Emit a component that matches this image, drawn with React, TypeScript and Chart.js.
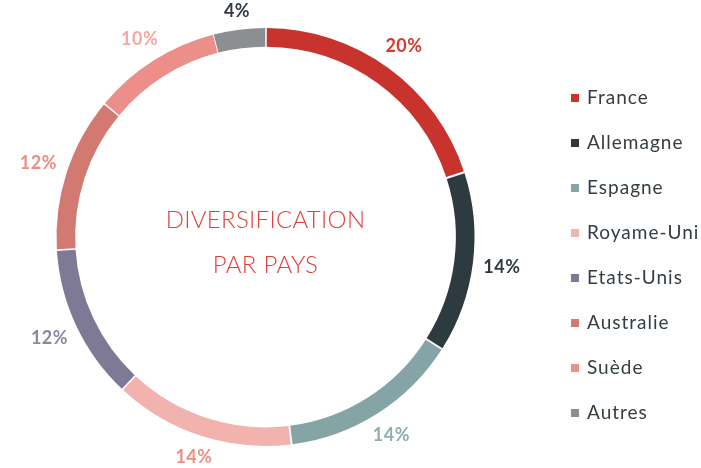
import React, { useEffect, useRef } from "react";
import { Chart, registerables } from "chart.js";

Chart.register(...registerables);

const countries = ["France", "Allemagne", "Espagne", "Royame-Uni", "Etats-Unis", "Australie", "Suède", "Autres"];
const shares = [20, 14, 14, 14, 12, 12, 10, 4];
const sliceColors = ["#C8332D", "#2D3A40", "#84A4A6", "#F2B3AF", "#7E7A95", "#D27A72", "#EC8E8A", "#8C8E91"];
const labelColors = ["#D63A31", "#2E3B42", "#8EAFB1", "#EE8F85", "#8A86A2", "#EF8C84", "#F4A8A3", "#2E3B42"];
const centerLines = ["DIVERSIFICATION", "PAR PAYS"];

const FONT = "Lato, 'Open Sans', sans-serif";

const decorPlugin = {
  id: "decor",
  afterDraw(chart: any) {
    const ctx = chart.ctx;
    const meta = chart.getDatasetMeta(0);
    ctx.save();
    // percentage labels
    ctx.font = `700 18px ${FONT}`;
    (ctx as any).letterSpacing = "0.5px";
    ctx.textAlign = "center";
    ctx.textBaseline = "middle";
    meta.data.forEach((arc: any, i: number) => {
      const mid = (arc.startAngle + arc.endAngle) / 2;
      const txt = shares[i] + "%";
      const w = ctx.measureText(txt).width;
      const h = 14;
      const cx = Math.cos(mid), sy = Math.sin(mid);
      const r = arc.outerRadius + 12 + (w / 2) * Math.abs(cx) + (h / 2) * Math.abs(sy);
      const x = arc.x + cx * r;
      const y = arc.y + sy * r;
      ctx.fillStyle = labelColors[i];
      ctx.fillText(txt, x, y);
    });
    // center text
    const a0 = meta.data[0];
    (ctx as any).letterSpacing = "0.3px";
    ctx.font = `300 24px ${FONT}`;
    ctx.fillStyle = "#E0403A";
    ctx.fillText(centerLines[0], a0.x, a0.y - 17);
    ctx.fillText(centerLines[1], a0.x, a0.y + 28);
    // legend
    ctx.textAlign = "left";
    (ctx as any).letterSpacing = "1px";
    ctx.font = `400 19px ${FONT}`;
    countries.forEach((c, i) => {
      const y = 98 + i * 45;
      ctx.fillStyle = sliceColors[i];
      ctx.fillRect(571, y - 4, 8, 8);
      ctx.fillStyle = "#333D42";
      ctx.fillText(c, 587, y);
    });
    ctx.restore();
  },
};

export default function App() {
  const ref = useRef<HTMLCanvasElement>(null);
  useEffect(() => {
    const chart = new Chart(ref.current!, {
      type: "doughnut",
      data: {
        labels: countries,
        datasets: [
          {
            data: shares,
            backgroundColor: sliceColors,
            borderWidth: 0,
            spacing: 4,
          },
        ],
      },
      options: {
        responsive: false,
        animation: false,
        radius: 207,
        cutout: "91%",
        layout: { padding: { left: 52.5, right: 222.5, top: 24, bottom: 18 } },
        plugins: { legend: { display: false }, tooltip: { enabled: false } },
      },
      plugins: [decorPlugin],
    } as any);
    return () => chart.destroy();
  }, []);
  return (
    <div style={{ position: "absolute", left: 0, top: 0, width: 701, height: 468, background: "#fff" }}>
      <canvas ref={ref} width={701} height={468} />
    </div>
  );
}
